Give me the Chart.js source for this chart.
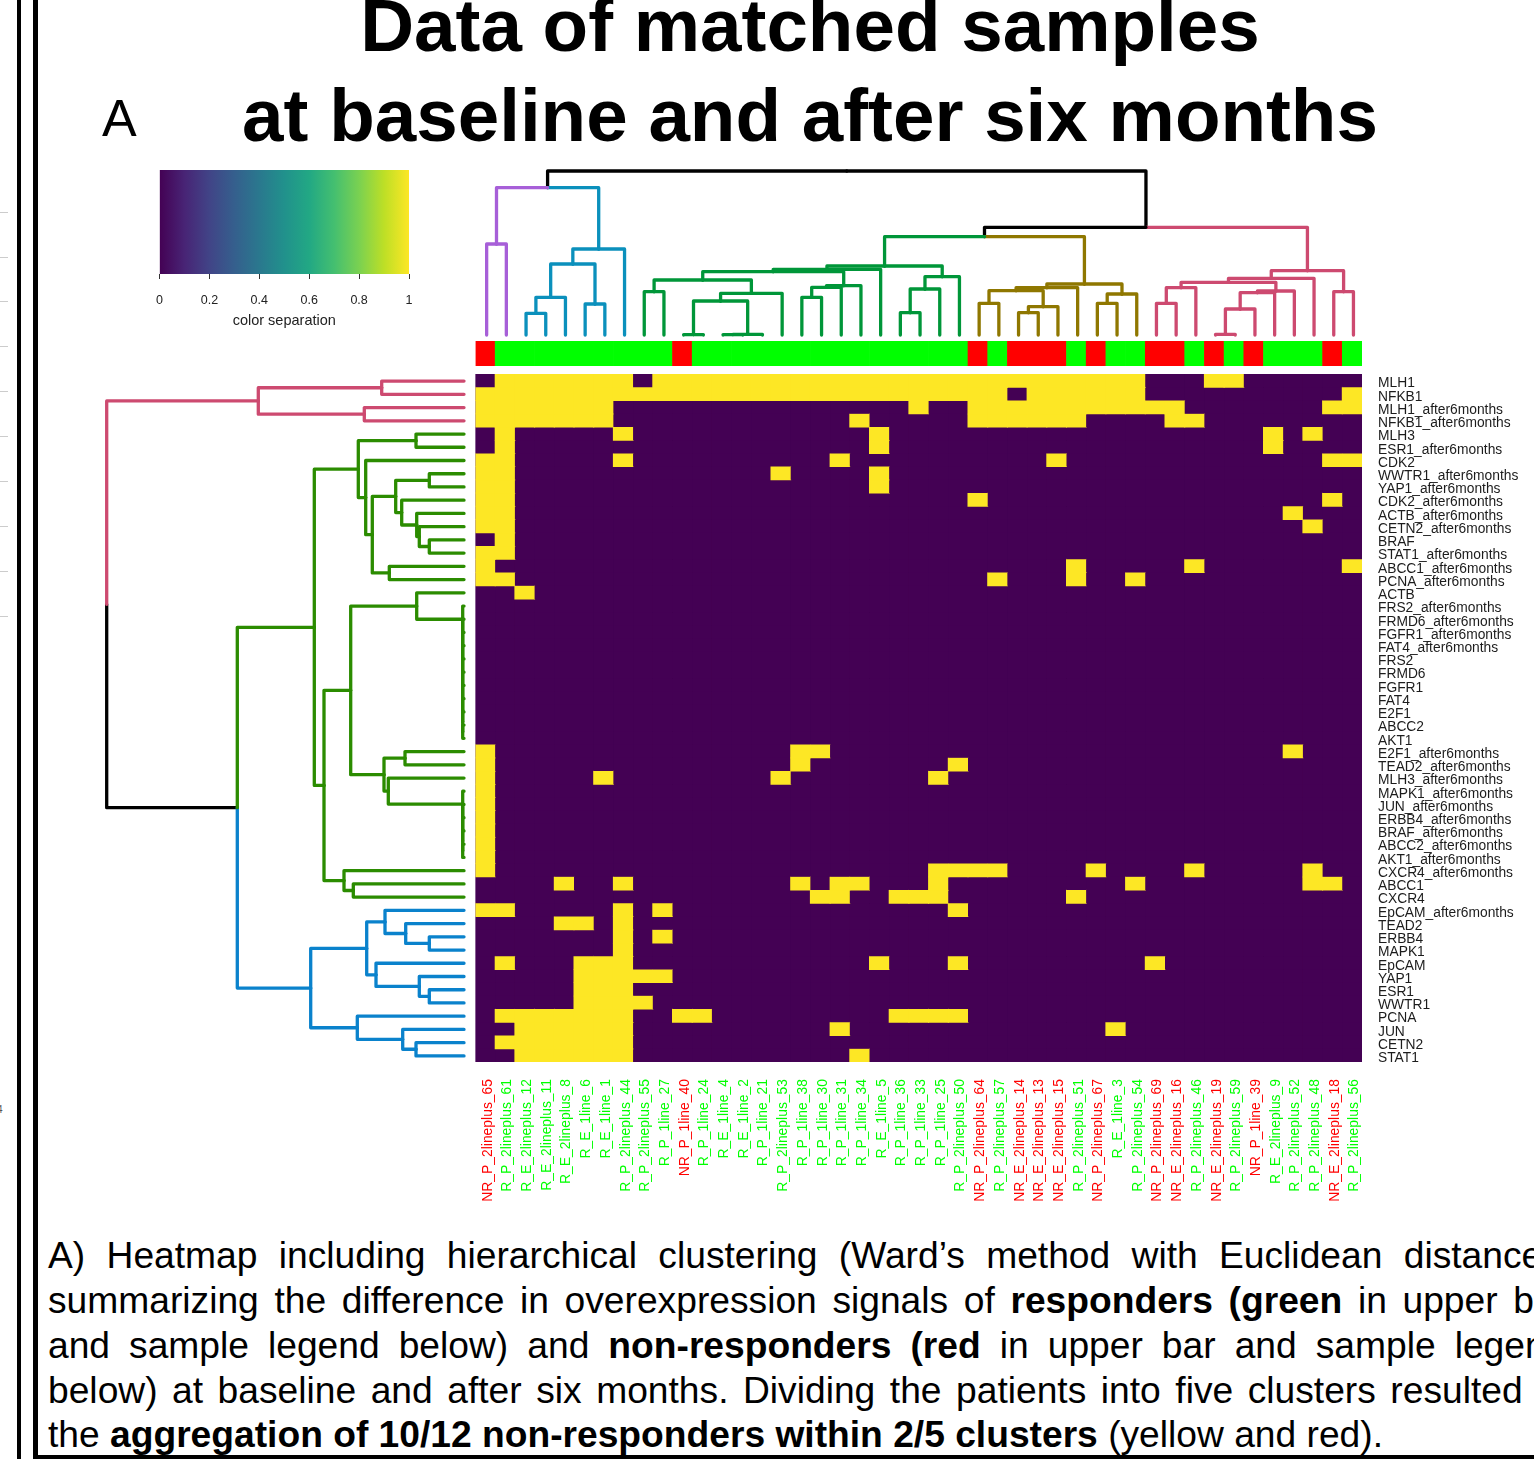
<!DOCTYPE html>
<html>
<head>
<meta charset="utf-8">
<title>Data of matched samples</title>
<script src="https://cdn.jsdelivr.net/npm/chart.js@4"></script>
<style>
  html, body { margin: 0; padding: 0; background: #fff; }
  body { position: relative; width: 1534px; height: 1459px; overflow: hidden; font-family: "Liberation Sans", Arial, sans-serif; color: #000; }
  canvas { position: absolute; display: block; }
  .title { position: absolute; left: 0; width: 1620px; text-align: center; font-weight: bold; font-size: 74.6px; line-height: 75px; white-space: nowrap; }
  .caption { position: absolute; left: 48px; font-size: 37.2px; line-height: 40px; white-space: nowrap; }
  .rule { position: absolute; background: #000; }
  .edge { position: absolute; left: 0; width: 8px; height: 1px; background: #ccc; }
</style>
</head>
<body>

<div class="rule" style="left:17px;top:0;width:4px;height:1459px"></div>
<div class="rule" style="left:33px;top:0;width:5px;height:1459px"></div>
<div class="rule" style="left:33px;top:1455px;width:1501px;height:4px"></div>

<div class="edge" style="top:212px"></div>
<div class="edge" style="top:257px"></div>
<div class="edge" style="top:301px"></div>
<div class="edge" style="top:346px"></div>
<div class="edge" style="top:391px"></div>
<div class="edge" style="top:436px"></div>
<div class="edge" style="top:481px"></div>
<div class="edge" style="top:526px"></div>
<div class="edge" style="top:571px"></div>
<div class="edge" style="top:616px"></div>
<div style="position:absolute;left:-3px;top:1104px;font-size:10px;color:#555">4</div>

<div class="title" style="top:-12px">Data of matched samples</div>
<div class="title" style="top:78px">at baseline and after six months</div>
<div style="position:absolute;left:102px;top:92px;font-size:52px;line-height:52px">A</div>

<canvas id="keyChart" width="300" height="175" style="left:140px;top:165px"></canvas>
<canvas id="topTree" width="900" height="175" style="left:470px;top:165px"></canvas>
<canvas id="groupBar" width="900" height="35" style="left:470px;top:335px"></canvas>
<canvas id="leftTree" width="370" height="700" style="left:100px;top:370px"></canvas>
<canvas id="heatChart" width="1064" height="840" style="left:470px;top:370px"></canvas>

<div class="caption" style="top:1235px;word-spacing:11px">A) Heatmap including hierarchical clustering (Ward’s method with Euclidean distance)</div>
<div class="caption" style="top:1280px;word-spacing:5.3px">summarizing the difference in overexpression signals of <b>responders (green</b> in upper bar</div>
<div class="caption" style="top:1325px;word-spacing:8.7px">and sample legend below) and <b>non-responders (red</b> in upper bar and sample legend</div>
<div class="caption" style="top:1370px;word-spacing:4.2px">below) at baseline and after six months. Dividing the patients into five clusters resulted in</div>
<div class="caption" style="top:1414px">the <b>aggregation of 10/12 non-responders within 2/5 clusters</b> (yellow and red).</div>

<script>
// Samples (columns) and genes (rows) in heatmap order
const samples = [
    'NR_P_2lineplus_65', 'R_P_2lineplus_61', 'R_E_2lineplus_12', 'R_E_2lineplus_11', 'R_E_2lineplus_8',
    'R_E_1line_6', 'R_E_1line_1', 'R_P_2lineplus_44', 'R_P_2lineplus_55', 'R_P_1line_27',
    'NR_P_1line_40', 'R_P_1line_24', 'R_E_1line_4', 'R_E_1line_2', 'R_P_1line_21',
    'R_P_2lineplus_53', 'R_P_1line_38', 'R_P_1line_30', 'R_P_1line_31', 'R_P_1line_34',
    'R_E_1line_5', 'R_P_1line_36', 'R_P_1line_33', 'R_P_1line_25', 'R_P_2lineplus_50',
    'NR_P_2lineplus_64', 'R_P_2lineplus_57', 'NR_E_2lineplus_14', 'NR_E_2lineplus_13', 'NR_E_2lineplus_15',
    'R_P_2lineplus_51', 'NR_P_2lineplus_67', 'R_E_1line_3', 'R_P_2lineplus_54', 'NR_P_2lineplus_69',
    'NR_E_2lineplus_16', 'R_P_2lineplus_46', 'NR_E_2lineplus_19', 'R_P_2lineplus_59', 'NR_P_1line_39',
    'R_E_2lineplus_9', 'R_P_2lineplus_52', 'R_P_2lineplus_48', 'NR_E_2lineplus_18', 'R_P_2lineplus_56'
];

const genes = [
    'MLH1', 'NFKB1', 'MLH1_after6months', 'NFKB1_after6months', 'MLH3', 'ESR1_after6months', 'CDK2',
    'WWTR1_after6months', 'YAP1_after6months', 'CDK2_after6months', 'ACTB_after6months', 'CETN2_after6months',
    'BRAF', 'STAT1_after6months', 'ABCC1_after6months', 'PCNA_after6months', 'ACTB', 'FRS2_after6months',
    'FRMD6_after6months', 'FGFR1_after6months', 'FAT4_after6months', 'FRS2', 'FRMD6', 'FGFR1', 'FAT4', 'E2F1',
    'ABCC2', 'AKT1', 'E2F1_after6months', 'TEAD2_after6months', 'MLH3_after6months', 'MAPK1_after6months',
    'JUN_after6months', 'ERBB4_after6months', 'BRAF_after6months', 'ABCC2_after6months', 'AKT1_after6months',
    'CXCR4_after6months', 'ABCC1', 'CXCR4', 'EpCAM_after6months', 'TEAD2', 'ERBB4', 'MAPK1', 'EpCAM', 'YAP1',
    'ESR1', 'WWTR1', 'PCNA', 'JUN', 'CETN2', 'STAT1'
];

// Yellow cells of each gene row, as [first column, last column] runs
const yellowRuns = [
    [[1, 7], [9, 33], [37, 38]],
    [[0, 26], [28, 33], [44, 44]],
    [[0, 6], [22, 22], [25, 35], [43, 44]],
    [[0, 6], [19, 19], [25, 30], [35, 36]],
    [[1, 1], [7, 7], [20, 20], [40, 40], [42, 42]],
    [[1, 1], [20, 20], [40, 40]],
    [[0, 1], [7, 7], [18, 18], [29, 29], [43, 44]],
    [[0, 1], [15, 15], [20, 20]],
    [[0, 1], [20, 20]],
    [[0, 1], [25, 25], [43, 43]],
    [[0, 1], [41, 41]],
    [[0, 1], [42, 42]],
    [[1, 1]],
    [[0, 1]],
    [[0, 0], [30, 30], [36, 36], [44, 44]],
    [[0, 1], [26, 26], [30, 30], [33, 33]],
    [[2, 2]],
    [], [], [], [], [], [], [], [], [], [], [],
    [[0, 0], [16, 17], [41, 41]],
    [[0, 0], [16, 16], [24, 24]],
    [[0, 0], [6, 6], [15, 15], [23, 23]],
    [[0, 0]], [[0, 0]], [[0, 0]], [[0, 0]], [[0, 0]], [[0, 0]],
    [[0, 0], [23, 26], [31, 31], [36, 36], [42, 42]],
    [[4, 4], [7, 7], [16, 16], [18, 19], [23, 23], [33, 33], [42, 43]],
    [[17, 18], [21, 23], [30, 30]],
    [[0, 1], [7, 7], [9, 9], [24, 24]],
    [[4, 5], [7, 7]],
    [[7, 7], [9, 9]],
    [[7, 7]],
    [[1, 1], [5, 7], [20, 20], [24, 24], [34, 34]],
    [[5, 9]],
    [[5, 7]],
    [[5, 8]],
    [[1, 7], [10, 11], [21, 24]],
    [[2, 7], [18, 18], [32, 32]],
    [[1, 7]],
    [[2, 7], [19, 19]]
];

// Top dendrogram. Same convention as hclust: negative = leaf, positive = earlier merge (1-based)
const topLeft = [-1, -3, 2, -6, 3, 5, 1, -9, -11, -13, 10, 9, 12, 8, -17, 15, 16, 14, 18, -22, 20, 21, 19,
    -26, -28, 25, 24, 27, -32, 29, 28, 23, -35, 33, -38, 35, 36, 37, 34, 39, -44, 40, 32, 7];
const topRight = [-2, -4, -5, -7, 4, -8, 6, -10, -12, -14, -15, 11, -16, 13, -18, -19, -20, 17, -21, -23, -24, -25, 22,
    -27, -29, -30, 26, -31, -33, -34, 30, 31, -36, -37, -39, -40, -41, -42, 38, -43, -45, 41, 42, 43];
const topHeight = [91, 21.7, 37.7, 31, 71, 86, 147.3, 43.3, 0.4, 0.4, 0.6, 34, 41.7, 55, 37.7, 47.7, 49.3, 63.3, 65.7,
    22.3, 46, 58.3, 69, 31.7, 22.3, 28.3, 44.3, 47.3, 31.7, 41, 51, 98.3, 31.7, 47.3, 0.7, 26, 42.3, 44, 52.7, 56.7,
    43.3, 64.3, 107.7, 164];
const topGroup = ['p', 'b', 'b', 'b', 'b', 'b', 'k', 'g', 'g', 'g', 'g', 'g', 'g', 'g', 'g', 'g', 'g', 'g', 'g', 'g', 'g', 'g', 'g',
    'o', 'o', 'o', 'o', 'o', 'o', 'o', 'o', 'k', 'c', 'c', 'c', 'c', 'c', 'c', 'c', 'c', 'c', 'c', 'k', 'k'];

// Left dendrogram
const leftLeft = [-1, -3, 1, -5, -8, -13, -12, -11, -10, 5, -15, 10, -7, 4,
    -27, -26, -25, -24, -23, -22, -21, -20, -19, -18, -17, -29,
    -36, -35, -34, -33, -32, -31, 26, 25, -39, -38, 34, 14,
    -43, -42, -41, -47, -46, -45, 41, -51, -50, -49, 45, 38, 3];
const leftRight = [-2, -4, 2, -6, -9, -14, 6, 7, 8, 9, -16, 11, 12, 13,
    -28, 15, 16, 17, 18, 19, 20, 21, 22, 23, 24, -30,
    -37, 27, 28, 29, 30, 31, 32, 33, -40, 35, 36, 37,
    -44, 39, 40, -48, 42, 43, 44, -52, 46, 47, 48, 49, 50];
const leftHeight = [82.3, 99.7, 205.7, 48, 34.7, 34.7, 44.7, 47.3, 62.3, 68.3, 74.7, 91.7, 98.3, 105.7,
    1.3, 1.3, 1.3, 1.3, 1.3, 1.3, 1.3, 1.3, 1.3, 1.3, 47.3, 59,
    1.3, 1.3, 1.3, 1.3, 1.3, 75.7, 80, 113.3, 110.7, 120, 140, 149.7,
    34.7, 58.3, 79, 34.7, 44.7, 88, 97.3, 48, 61.3, 106.7, 153.3, 226.7, 357.3];
const leftGroup = ['c', 'c', 'c',
    'f', 'f', 'f', 'f', 'f', 'f', 'f', 'f', 'f', 'f', 'f', 'f', 'f', 'f', 'f', 'f', 'f', 'f', 'f', 'f', 'f', 'f', 'f',
    'f', 'f', 'f', 'f', 'f', 'f', 'f', 'f', 'f', 'f', 'f', 'f',
    'a', 'a', 'a', 'a', 'a', 'a', 'a', 'a', 'a', 'a', 'a', 'k', 'k'];

const keyStops = ['#440154', '#482475', '#414487', '#355f8d', '#2a788e', '#21918c', '#22a884', '#44bf70', '#7ad151', '#bddf26', '#fde725'];

const treeColors = {
    k: '#000000', p: '#a75fd8', b: '#0b90bc', g: '#009639', o: '#8f7700', c: '#cd4a70', f: '#2b8c00', a: '#0a82cc'
};
const darkCell = '#440154';
const yellowCell = '#fde725';

const sansFont = '"Liberation Sans", Arial, sans-serif';
const noPlugins = { legend: { display: false }, tooltip: { enabled: false } };
const hiddenLinear = (min, max, reverse) => ({ type: 'linear', display: false, min: min, max: max, reverse: !!reverse });

// One 3-point line per child branch: up from the child, then across to the parent's midpoint
function treeBranches(left, right, height, group, horizontal) {
    const pos = [];
    const datasets = [];
    const point = (p, h) => horizontal ? { x: h, y: p } : { x: p, y: h };

    function addBranch(child, i, parentPos) {
        const isLeaf = child < 0;
        const childPos = isLeaf ? -child - 0.5 : pos[child - 1];
        const childH = isLeaf ? 0 : height[child - 1];
        const color = treeColors[isLeaf ? group[i] : group[child - 1]];
        datasets.push({
            data: [point(childPos, childH), point(childPos, height[i]), point(parentPos, height[i])],
            showLine: true,
            borderColor: color,
            borderWidth: 3.3,
            borderCapStyle: 'round',
            borderJoinStyle: 'round',
            pointRadius: 0,
            clip: false
        });
    }

    left.forEach((a, i) => {
        const b = right[i];
        const pa = a < 0 ? -a - 0.5 : pos[a - 1];
        const pb = b < 0 ? -b - 0.5 : pos[b - 1];
        pos[i] = (pa + pb) / 2;
        addBranch(a, i, pos[i]);
        addBranch(b, i, pos[i]);
    });
    return datasets;
}

function isYellow(row, col) {
    return yellowRuns[row].some(run => col >= run[0] && col <= run[1]);
}

// Keeps white from leaking through the fractional cell edges
const heatBackdrop = {
    id: 'heatBackdrop',
    beforeDatasetsDraw(chart) {
        const a = chart.chartArea;
        chart.ctx.save();
        chart.ctx.fillStyle = darkCell;
        chart.ctx.fillRect(a.left, a.top, a.right - a.left, a.bottom - a.top);
        chart.ctx.restore();
    }
};

// Colour key
new Chart(document.getElementById('keyChart'), {
    type: 'bar',
    data: {
        labels: ['color separation'],
        datasets: [{
            data: [[0, 1]],
            barPercentage: 1,
            categoryPercentage: 1,
            backgroundColor: ctx => {
                const area = ctx.chart.chartArea;
                if (!area) return keyStops[0];
                const grad = ctx.chart.ctx.createLinearGradient(area.left, 0, area.right, 0);
                keyStops.forEach((c, i) => grad.addColorStop(i / (keyStops.length - 1), c));
                return grad;
            }
        }]
    },
    options: {
        indexAxis: 'y',
        responsive: false,
        animation: false,
        events: [],
        layout: { padding: { left: 19.5, right: 31, top: 5, bottom: 0 } },
        plugins: noPlugins,
        scales: {
            y: { display: false },
            x: {
                type: 'linear',
                min: 0,
                max: 1,
                afterFit: scale => { scale.height = 66; scale.paddingLeft = 0; scale.paddingRight = 0; },
                border: { display: false },
                grid: { drawOnChartArea: false, tickLength: 5, tickWidth: 1, tickColor: '#333' },
                ticks: {
                    stepSize: 0.2,
                    padding: 14,
                    maxRotation: 0,
                    color: '#222',
                    font: { family: sansFont, size: 12.5 },
                    callback: value => String(+value.toFixed(1))
                },
                title: {
                    display: true,
                    text: 'color separation',
                    color: '#222',
                    font: { family: sansFont, size: 14.5 },
                    padding: { top: 0, bottom: 10 }
                }
            }
        }
    }
});

// Column dendrogram
new Chart(document.getElementById('topTree'), {
    type: 'scatter',
    data: { datasets: treeBranches(topLeft, topRight, topHeight, topGroup, false) },
    options: {
        responsive: false,
        animation: false,
        events: [],
        layout: { padding: { left: 6.8, right: 6.7, top: 6, bottom: 5 } },
        plugins: noPlugins,
        scales: { x: hiddenLinear(0, samples.length), y: hiddenLinear(0, 164) }
    }
});

// Responder / non-responder bar above the heatmap
new Chart(document.getElementById('groupBar'), {
    type: 'bar',
    data: {
        labels: samples,
        datasets: [{
            data: samples.map(() => 1),
            barPercentage: 1,
            categoryPercentage: 1,
            backgroundColor: samples.map(s => s.startsWith('NR') ? '#ff0000' : '#00ff00')
        }]
    },
    options: {
        responsive: false,
        animation: false,
        events: [],
        layout: { padding: { left: 5.5, right: 8, top: 6, bottom: 4 } },
        plugins: noPlugins,
        scales: { x: { display: false }, y: hiddenLinear(0, 1) }
    }
});

// Row dendrogram
new Chart(document.getElementById('leftTree'), {
    type: 'scatter',
    data: { datasets: treeBranches(leftLeft, leftRight, leftHeight, leftGroup, true) },
    options: {
        responsive: false,
        animation: false,
        events: [],
        layout: { padding: { left: 6.7, right: 6, top: 4.5, bottom: 7.5 } },
        plugins: noPlugins,
        scales: { x: hiddenLinear(0, 357.3, true), y: hiddenLinear(0, genes.length, true) }
    }
});

// Heatmap: one stacked dataset per gene row, each bar is one cell
new Chart(document.getElementById('heatChart'), {
    type: 'bar',
    plugins: [heatBackdrop],
    data: {
        labels: samples,
        datasets: genes.map((gene, row) => ({
            label: gene,
            data: samples.map(() => 1),
            yAxisID: 'y',
            barPercentage: 1,
            categoryPercentage: 1,
            inflateAmount: ctx => isYellow(ctx.datasetIndex, ctx.dataIndex) ? 0.5 : 0,
            backgroundColor: samples.map((s, col) => isYellow(row, col) ? yellowCell : darkCell)
        }))
    },
    options: {
        responsive: false,
        animation: false,
        events: [],
        layout: { padding: { left: 5.5, right: 0, top: 4, bottom: 0 } },
        plugins: noPlugins,
        scales: {
            x: {
                stacked: true,
                afterFit: scale => { scale.height = 148; scale.paddingLeft = 0; scale.paddingRight = 0; },
                grid: { display: false, drawTicks: false },
                border: { display: false },
                ticks: {
                    autoSkip: false,
                    minRotation: 90,
                    maxRotation: 90,
                    padding: 17,
                    labelOffset: 2.5,
                    font: { family: sansFont, size: 13.9 },
                    color: ctx => samples[ctx.index].startsWith('NR') ? '#ff0000' : '#00ff00'
                }
            },
            y: { type: 'linear', display: false, stacked: true, min: 0, max: genes.length, reverse: true },
            yGenes: {
                type: 'category',
                labels: genes,
                position: 'right',
                offset: true,
                afterFit: scale => { scale.width = 172; scale.paddingTop = 0; scale.paddingBottom = 0; },
                grid: { display: false, drawTicks: false },
                border: { display: false },
                ticks: {
                    autoSkip: false,
                    padding: 16,
                    labelOffset: 3,
                    color: '#1c1c1c',
                    font: { family: sansFont, size: 13.8 }
                }
            }
        }
    }
});
</script>
</body>
</html>
